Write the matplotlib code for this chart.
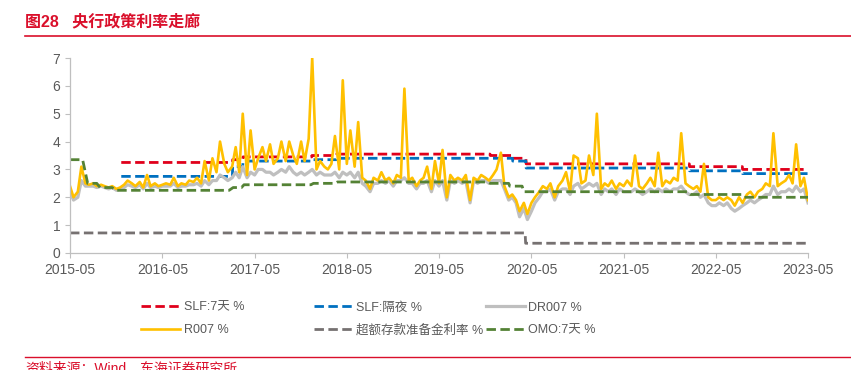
import matplotlib.pyplot as plt
import pandas as pd
from matplotlib.lines import Line2D

plt.rcParams['font.family'] = ['Liberation Sans', 'Noto Sans CJK SC', 'DejaVu Sans']

# semi-monthly observations (1st and 15th), 2015-05-01 .. 2023-05-01
dates = pd.date_range('2015-05-01', '2023-05-01', freq='SMS')

r007_2015 = [2.4, 2.0, 2.2, 3.1, 2.5, 2.45, 2.5, 2.4, 2.45, 2.4, 2.35, 2.4, 2.3, 2.35, 2.45, 2.6]
r007_2016 = [2.5, 2.4, 2.55, 2.35, 2.8, 2.4, 2.5, 2.4, 2.45, 2.5, 2.45, 2.7,
             2.4, 2.5, 2.45, 2.6, 2.55, 2.7, 2.5, 3.3, 2.6, 3.4, 2.9, 4.0]
r007_2017 = [3.2, 2.9, 3.1, 3.8, 2.9, 5.0, 2.8, 4.4, 3.0, 3.4, 3.8, 3.3,
             3.9, 3.2, 3.4, 4.0, 3.3, 4.0, 3.5, 3.2, 4.0, 3.3, 4.1, 7.0]
r007_2018 = [3.0, 3.3, 3.1, 3.0, 3.2, 4.2, 3.0, 6.2, 3.2, 4.4, 3.1, 4.7,
             2.7, 2.6, 2.3, 2.7, 2.6, 2.9, 2.6, 2.7, 2.5, 2.8, 2.7, 5.9]
r007_2019 = [2.6, 2.7, 2.4, 2.6, 2.7, 3.1, 2.3, 3.3, 2.5, 3.7, 2.0, 2.8,
             2.6, 2.7, 2.6, 2.8, 1.9, 2.7, 2.6, 2.8, 2.7, 2.6, 2.8, 3.0]
r007_2020 = [3.6, 2.4, 2.0, 2.1, 1.9, 1.5, 1.8, 1.4, 1.8, 2.0, 2.2, 2.4,
             2.3, 2.5, 2.0, 2.4, 2.6, 2.9, 2.2, 3.5, 3.4, 2.5, 2.6, 3.5]
r007_2021 = [2.8, 5.0, 2.3, 2.5, 2.4, 2.6, 2.3, 2.5, 2.4, 2.6, 2.4, 3.5,
             2.4, 2.3, 2.5, 2.7, 2.4, 3.6, 2.4, 2.6, 2.5, 2.7, 2.6, 4.3]
r007_2022 = [2.5, 2.4, 2.3, 2.4, 2.2, 3.2, 2.0, 1.9, 1.9, 2.0, 1.9, 2.0,
             1.9, 1.7, 2.0, 1.8, 2.1, 2.2, 2.0, 2.2, 2.3, 2.5, 2.4, 4.3]
r007_2023 = [2.4, 2.5, 2.6, 2.8, 2.5, 3.9, 2.4, 2.7, 1.9]

dr007_2015 = [2.2, 1.9, 2.0, 2.6, 2.4, 2.4, 2.4, 2.35, 2.4, 2.35, 2.3, 2.35, 2.25, 2.3, 2.35, 2.45]
dr007_2016 = [2.4, 2.35, 2.45, 2.3, 2.5, 2.35, 2.4, 2.35, 2.4, 2.4, 2.4, 2.5,
              2.35, 2.4, 2.4, 2.45, 2.45, 2.5, 2.4, 2.6, 2.45, 2.6, 2.6, 2.8]
dr007_2017 = [2.7, 2.6, 2.7, 2.9, 2.7, 3.1, 2.7, 2.9, 2.8, 3.0, 3.0, 2.9,
              2.9, 2.8, 2.9, 3.0, 2.9, 3.1, 2.9, 2.8, 2.9, 2.8, 2.9, 3.0]
dr007_2018 = [2.8, 2.9, 2.8, 2.8, 2.8, 2.9, 2.7, 2.9, 2.8, 2.9, 2.7, 2.9,
              2.5, 2.4, 2.2, 2.5, 2.5, 2.6, 2.5, 2.6, 2.4, 2.6, 2.6, 2.7]
dr007_2019 = [2.5, 2.5, 2.3, 2.5, 2.5, 2.6, 2.2, 2.6, 2.4, 2.6, 1.9, 2.6,
              2.5, 2.6, 2.5, 2.6, 1.8, 2.6, 2.5, 2.6, 2.6, 2.5, 2.6, 2.6]
dr007_2020 = [2.6, 2.3, 1.9, 2.0, 1.8, 1.3, 1.6, 1.2, 1.5, 1.8, 2.0, 2.2,
              2.2, 2.3, 1.9, 2.2, 2.3, 2.3, 2.1, 2.4, 2.5, 2.3, 2.4, 2.5]
dr007_2021 = [2.4, 2.5, 2.1, 2.3, 2.2, 2.3, 2.1, 2.3, 2.2, 2.2, 2.2, 2.3,
              2.2, 2.1, 2.2, 2.3, 2.2, 2.3, 2.2, 2.3, 2.2, 2.3, 2.3, 2.4]
dr007_2022 = [2.2, 2.1, 2.1, 2.2, 2.0, 2.1, 1.8, 1.7, 1.7, 1.8, 1.7, 1.8,
              1.6, 1.5, 1.6, 1.7, 1.8, 1.9, 1.8, 1.9, 2.0, 2.1, 2.1, 2.4]
dr007_2023 = [2.1, 2.2, 2.2, 2.3, 2.2, 2.4, 2.2, 2.3, 1.8]

r007 = (r007_2015 + r007_2016 + r007_2017 + r007_2018 + r007_2019
        + r007_2020 + r007_2021 + r007_2022 + r007_2023)
dr007 = (dr007_2015 + dr007_2016 + dr007_2017 + dr007_2018 + dr007_2019
         + dr007_2020 + dr007_2021 + dr007_2022 + dr007_2023)

# policy rates, points at adjustment dates
slf_dates = pd.to_datetime(['2015-11-20', '2017-02-02', '2017-02-03', '2017-03-15', '2017-03-16',
                            '2017-12-13', '2017-12-14', '2018-03-21', '2018-03-22', '2019-11-19',
                            '2019-11-20', '2020-02-16', '2020-02-17', '2020-04-09', '2020-04-10',
                            '2022-01-16', '2022-01-17', '2022-08-14', '2022-08-15', '2023-05-01'])
slf_7d = [3.25, 3.25, 3.35, 3.35, 3.45, 3.45, 3.50, 3.50, 3.55, 3.55,
          3.50, 3.50, 3.40, 3.40, 3.20, 3.20, 3.10, 3.10, 3.00, 3.00]
slf_on = [2.75, 2.75, 3.10, 3.10, 3.30, 3.30, 3.35, 3.35, 3.40, 3.40,
          3.40, 3.40, 3.30, 3.30, 3.05, 3.05, 2.95, 2.95, 2.85, 2.85]

omo_dates = pd.to_datetime(['2015-05-01', '2015-06-20', '2015-07-10', '2015-08-15', '2015-08-28',
                            '2015-10-15', '2015-10-28', '2017-01-20', '2017-02-05', '2017-03-10',
                            '2017-03-20', '2017-12-10', '2017-12-20', '2018-03-15', '2018-03-25',
                            '2019-11-10', '2019-11-20', '2020-02-01', '2020-02-05', '2020-03-25',
                            '2020-04-01', '2022-01-10', '2022-01-20', '2022-08-10', '2022-08-20',
                            '2023-05-01'])
omo_7d = [3.35, 3.35, 2.50, 2.50, 2.35, 2.35, 2.25, 2.25, 2.35, 2.35, 2.45, 2.45, 2.50,
          2.50, 2.55, 2.55, 2.50, 2.50, 2.40, 2.40, 2.20, 2.20, 2.10, 2.10, 2.00, 2.00]

ex_dates = pd.to_datetime(['2015-05-01', '2020-04-06', '2020-04-08', '2023-05-01'])
excess_reserve = [0.72, 0.72, 0.35, 0.35]

red = '#DA0F2B'
txt = '#595959'
dash = (0, (3.4, 1.6))

fig = plt.figure(figsize=(8.51, 3.70), dpi=100)
ax = fig.add_axes([70 / 851, 117 / 370, 738 / 851, 195 / 370])

l1, = ax.plot(slf_dates, slf_7d, color='#E0001B', lw=2, linestyle=dash, label='SLF:7天 %')
l2, = ax.plot(slf_dates, slf_on, color='#0070C0', lw=2, linestyle=dash, label='SLF:隔夜 %')
l3, = ax.plot(dates, dr007, color='#BFBFBF', lw=2.3, label='DR007 %')
l4, = ax.plot(dates, r007, color='#FFC000', lw=1.9, label='R007 %')
l5, = ax.plot(ex_dates, excess_reserve, color='#767171', lw=2, linestyle=dash, label='超额存款准备金利率 %')
l6, = ax.plot(omo_dates, omo_7d, color='#548235', lw=2, linestyle=dash, label='OMO:7天 %')

ax.set_xlim(pd.Timestamp('2015-05-01'), pd.Timestamp('2023-05-01'))
ax.set_ylim(0, 7)
ticks = pd.date_range('2015-05-01', '2023-05-01', freq='12MS')
ax.set_xticks(ticks)
ax.set_xticklabels([t.strftime('%Y-%m') for t in ticks])
ax.set_yticks(range(8))
ax.tick_params(colors='#BFBFBF', labelcolor=txt, labelsize=10, length=3.5, width=0.8)
for s in ['top', 'right']:
    ax.spines[s].set_visible(False)
for s in ['left', 'bottom']:
    ax.spines[s].set_color('#BFBFBF')
    ax.spines[s].set_linewidth(0.9)

legend_cols = [([l1, l4], 141), ([l2, l5], 314), ([l3, l6], 486)]
for handles, x0 in legend_cols:
    leg = fig.legend(handles=handles, loc='center left', bbox_to_anchor=(x0 / 851, 1 - 319 / 370),
                     frameon=False, fontsize=9, handlelength=3.1, handletextpad=0.3,
                     borderpad=0, borderaxespad=0, labelspacing=0.85, labelcolor=txt)

fig.text(25 / 851, 1 - 22 / 370, '图28   央行政策利率走廊', color=red, fontsize=11.5,
         fontweight='bold', va='center')
fig.add_artist(Line2D([25 / 851, 1], [1 - 36 / 370] * 2, color=red, lw=1.2))
fig.add_artist(Line2D([25 / 851, 1], [1 - 357 / 370] * 2, color=red, lw=1.0))
fig.text(25 / 851, 1 - 368 / 370, '资料来源：Wind，东海证券研究所', color=red, fontsize=10, va='center')

fig.savefig('out.png', dpi=100)
